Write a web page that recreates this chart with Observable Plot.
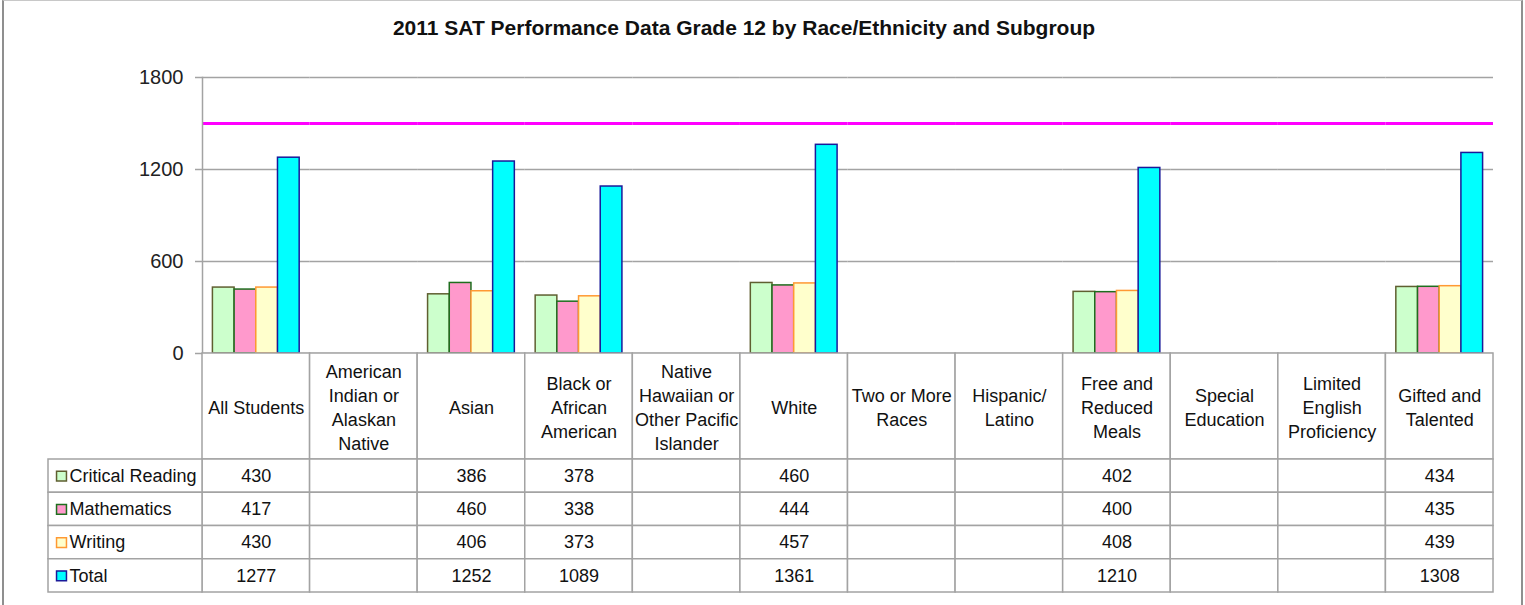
<!DOCTYPE html>
<html>
<head>
<meta charset="utf-8">
<script src="https://cdn.jsdelivr.net/npm/d3@7"></script>
<script src="https://cdn.jsdelivr.net/npm/@observablehq/plot@0.6"></script>
<style>
  html, body { margin: 0; padding: 0; background: #ffffff; }
  #chart { position: relative; width: 1525px; height: 605px; overflow: hidden; background: #ffffff;
           font-family: "Liberation Sans", Arial, sans-serif; }
  #border { position: absolute; left: 2px; top: 0px; width: 1517px; height: 640px; border: 2px solid #8f8f8f; border-top-width: 1px; border-top-color: #c8c8c8; }
  #title { position: absolute; left: 0; top: 17px; width: 1488px; text-align: center; font-weight: bold;
           font-size: 21px; line-height: 21px; color: #111; }
  .part { position: absolute; }
  .part svg { overflow: visible; }
</style>
</head>
<body>
<div id="chart">
  <div id="border"></div>
  <div id="title">2011 SAT Performance Data Grade 12 by Race/Ethnicity and Subgroup</div>
</div>
<script>
// ---------- data ----------
const categories = ["All Students", "American Indian or Alaskan Native", "Asian", "Black or African American",
  "Native Hawaiian or Other Pacific Islander", "White", "Two or More Races", "Hispanic/ Latino",
  "Free and Reduced Meals", "Special Education", "Limited English Proficiency", "Gifted and Talented"];
const categoryLabels = ["All Students", "American\nIndian or\nAlaskan\nNative", "Asian", "Black or\nAfrican\nAmerican",
  "Native\nHawaiian or\nOther Pacific\nIslander", "White", "Two or More\nRaces", "Hispanic/\nLatino",
  "Free and\nReduced\nMeals", "Special\nEducation", "Limited\nEnglish\nProficiency", "Gifted and\nTalented"];
const series = ["Critical Reading", "Mathematics", "Writing", "Total"];
const criticalReading = [430, null, 386, 378, null, 460, null, null, 402, null, null, 434];
const mathematics     = [417, null, 460, 338, null, 444, null, null, 400, null, null, 435];
const writing         = [430, null, 406, 373, null, 457, null, null, 408, null, null, 439];
const total           = [1277, null, 1252, 1089, null, 1361, null, null, 1210, null, null, 1308];
const yTicks = [0, 600, 1200, 1800];
const targetScore = 1500;
const fills   = ["#ccffcc", "#ff99cc", "#ffffcc", "#00ffff"];
const strokes = ["#5f5f30", "#1e6e1e", "#ff9933", "#1a1a99"];

const seriesValues = [criticalReading, mathematics, writing, total];
const rows = categories.flatMap((c, i) => series.map((s, j) => ({category: c, series: s, value: seriesValues[j][i]})));

const gridColor = "#a3a3a3";
const chart = document.getElementById("chart");
function place(node, left, top) {
  const wrap = document.createElement("div");
  wrap.className = "part";
  wrap.style.left = left + "px";
  wrap.style.top = top + "px";
  wrap.appendChild(node);
  chart.appendChild(wrap);
}

// ---------- bar chart ----------
const main = Plot.plot({
  width: 1525, height: 360,
  marginTop: 77, marginBottom: 7, marginLeft: 202, marginRight: 32,
  style: {background: "transparent", fontFamily: "Liberation Sans, Arial, sans-serif", fontSize: "20px", color: "#222"},
  fx: {domain: categories, padding: 0, round: false, axis: null},
  x: {domain: series, paddingInner: 0, paddingOuter: 0.48, round: false, axis: null},
  y: {domain: [0, 1800], axis: null},
  marks: [
    Plot.ruleY(yTicks, {stroke: gridColor, strokeWidth: 1.5}),
    Plot.ruleY([targetScore], {stroke: "#ff00ff", strokeWidth: 3}),
    ...series.map((s, j) => Plot.barY(rows.filter(d => d.series === s), {
      fx: "category", x: "series", y: "value", fill: fills[j], stroke: strokes[j], strokeWidth: 1.5
    })),
    Plot.axisY({ticks: yTicks, label: null, tickSize: 7, tickPadding: 12, stroke: gridColor, strokeWidth: 1.5, fill: "#222", fontSize: 20, tickFormat: d => String(d)}),
    Plot.frame({anchor: "left", stroke: gridColor, strokeWidth: 1.5, facetAnchor: "left"})
  ]
});
place(main, 0, 0);

// ---------- table header (category labels) ----------
const header = Plot.plot({
  width: 1525, height: 108,
  marginTop: 1, marginBottom: 1, marginLeft: 202, marginRight: 32,
  style: {background: "transparent", fontFamily: "Liberation Sans, Arial, sans-serif", color: "#111"},
  x: {domain: categories, padding: 0, round: false, axis: null},
  marks: [
    Plot.cell(categories, {x: d => d, fill: "white", stroke: gridColor, strokeWidth: 1.5}),
    Plot.text(categories, {x: d => d, text: (d, i) => categoryLabels[i], fontSize: 18, lineHeight: 1.33, fill: "#111"})
  ]
});
place(header, 0, 352);

// ---------- table values ----------
const body = Plot.plot({
  width: 1525, height: 135,
  marginTop: 1, marginBottom: 1, marginLeft: 202, marginRight: 32,
  style: {background: "transparent", fontFamily: "Liberation Sans, Arial, sans-serif", color: "#111"},
  x: {domain: categories, padding: 0, round: false, axis: null},
  y: {domain: series, padding: 0, round: false, axis: null},
  marks: [
    Plot.cell(rows, {x: "category", y: "series", fill: "white", stroke: gridColor, strokeWidth: 1.5}),
    Plot.text(rows.filter(d => d.value != null), {x: "category", y: "series", text: d => String(d.value), fontSize: 18, fill: "#111"})
  ]
});
place(body, 0, 458);

// ---------- table legend column ----------
const legend = Plot.plot({
  width: 156, height: 135,
  marginTop: 1, marginBottom: 1, marginLeft: 1, marginRight: 1,
  style: {background: "transparent", fontFamily: "Liberation Sans, Arial, sans-serif", color: "#111"},
  y: {domain: series, padding: 0, round: false, axis: null},
  color: {type: "identity"},
  marks: [
    Plot.cell(series, {y: d => d, fill: "white", stroke: gridColor, strokeWidth: 1.5}),
    Plot.dot(series, {y: d => d, frameAnchor: "left", dx: 13, symbol: "square", r: 5.6,
      fill: (d, i) => fills[i], stroke: (d, i) => strokes[i], strokeWidth: 1.5}),
    Plot.text(series, {y: d => d, text: d => d, frameAnchor: "left", dx: 21, textAnchor: "start", fontSize: 18, fill: "#111"})
  ]
});
place(legend, 47, 458);
</script>
</body>
</html>
